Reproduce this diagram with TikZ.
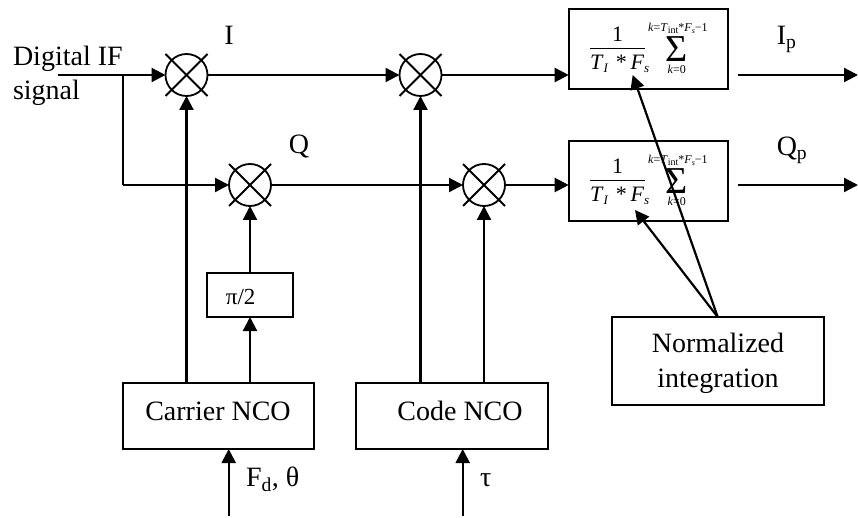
\documentclass[tikz,border=0pt]{standalone}
\usepackage{fontspec}
\setmainfont{Liberation Serif}
\usetikzlibrary{arrows.meta}
\newcommand{\sized}[1]{\fontsize{#1}{#1}\selectfont}
\newcommand{\lowered}[1]{\raisebox{-3pt}{\sized{13}\textit{#1}}}
\tikzset{
  mixer/.style = {circle, draw, line width=1.8pt, minimum size=42pt,
                inner sep=0pt, outer sep=0pt},
  block/.style = {draw, line width=1.8pt, inner sep=0pt, outer sep=0pt, anchor=north west},
  label/.style = {inner sep=0pt, outer sep=0pt, anchor=base, font=\sized{28}},
  wire/.style = {line width=2.2pt},
  flow/.style = {wire, -{Triangle[length=14pt,width=14pt]}}
}
\begin{document}
\begin{tikzpicture}[x=1pt,y=-1pt]
	\useasboundingbox (0,0) rectangle (858,518);
	
	% Mixers
	\node[mixer] (mixi) at (186.5,75) {};
	\node[mixer] (mixq) at (250,185) {};
	\node[mixer] (codei) at (420.5,75) {};
	\node[mixer] (codeq) at (484,185) {};
	\foreach \m in {mixi,mixq,codei,codeq} {
		\draw[line width=1.8pt] (\m.center) +(-21,-21) -- +(21,21);
		\draw[line width=1.8pt] (\m.center) +(-21,21) -- +(21,-21);
	}
	
	% Blocks
	\node[block, minimum width=86pt, minimum height=44pt] (phase) at (207,273) {};
	\node[block, minimum width=191pt, minimum height=66pt] (carrier) at (122.7,383) {};
	\node[block, minimum width=192pt, minimum height=66pt] (code) at (356,383) {};
	\node[block, minimum width=159pt, minimum height=80pt] (inti) at (568.7,9) {};
	\node[block, minimum width=159pt, minimum height=80pt] (intq) at (568.7,141) {};
	\node[block, minimum width=212pt, minimum height=88pt] (norm) at (611.7,317) {};
	
	% Integrator formula
	\foreach \n in {inti,intq} {
		\begin{scope}[shift={(\n.north west)}]
			\node[label, font=\sized{22}] (\n-one) at (49,33) {1};
			\draw[line width=1pt] (21.5,39.7) -- (76.5,39.7);
			\node[label, font=\sized{22}, anchor=base west] (\n-den) at (21.5,61)
				{\textit{T}\lowered{I}\,\,*\,\textit{F}\lowered{s}};
			\node[label, font=\sized{12}, anchor=base west] (\n-top) at (79.5,22.5)
				{\textit{k}=\textit{T}\raisebox{-2pt}{\sized{10}int}*\textit{F}\raisebox{-2pt}{\sized{8}\textit{s}}−1};
			\node[label, font=\sized{38}] (\n-sum) at (108,52.7) {Σ};
			\node[label, font=\sized{12}] (\n-low) at (108,65) {\textit{k}=0};
		\end{scope}
	}
	
	% Texts
	\node[label, anchor=base west] (input) at (13,66) {Digital IF};
	\node[label, anchor=base west] (inputb) at (13,100) {signal};
	\node[label] (labi) at (229,45) {I};
	\node[label] (labq) at (299,154) {Q};
	\node[label] (labip) at (786.7,45) {I\textsubscript{p}};
	\node[label] (labqp) at (792,156) {Q\textsubscript{p}};
	\node[label, font=\sized{23}] (labphase) at (240.7,304) {π/2};
	\node[label] (labcarrier) at (218,420) {Carrier NCO};
	\node[label] (labcode) at (460,420) {Code NCO};
	\node[label, anchor=base west] (labfd) at (246,486.7) {F\textsubscript{d}, θ};
	\node[label] (labtau) at (485.7,486.7) {τ};
	\node[label] (labnorm) at (718,352) {Normalized};
	\node[label] (labint) at (718,387) {integration};
	
	% Free ends
	\coordinate (infree) at (58,75);
	\coordinate (split) at (122.7,75);
	\coordinate (turn) at (122.7,185);
	\coordinate (fdfree) at (228.7,516);
	\coordinate (taufree) at (462.7,516);
	\coordinate (outi) at (858,75);
	\coordinate (outq) at (858,185);
	\coordinate (starti) at (738,75);
	\coordinate (startq) at (738,185);
	\coordinate (tipi) at (632.7,75);
	\coordinate (tipq) at (635,210);
	
	% Signal path
	\draw[flow] (infree) -- (mixi);
	\draw[wire] (split) -- (turn);
	\draw[flow] (turn) -- (mixq);
	\draw[flow] (mixi) -- (codei);
	\draw[flow] (mixq) -- (codeq);
	\draw[flow] (codei) -- (inti.west |- codei);
	\draw[flow] (codeq) -- (intq.west |- codeq);
	\draw[flow] (starti) -- (outi);
	\draw[flow] (startq) -- (outq);
	
	% NCO outputs
	\draw[flow] (mixi |- carrier.north) -- (mixi);
	\draw[flow] (mixq |- carrier.north) -- (phase);
	\draw[flow] (phase) -- (mixq);
	\draw[flow] (codei |- code.north) -- (codei);
	\draw[flow] (codeq |- code.north) -- (codeq);
	
	% NCO inputs
	\draw[flow] (fdfree) -- (fdfree |- carrier.south);
	\draw[flow] (taufree) -- (taufree |- code.south);
	
	% Normalized integration
	\draw[flow] (norm.north) -- (tipi);
	\draw[flow] (norm.north) -- (tipq);
\end{tikzpicture}
\end{document}
